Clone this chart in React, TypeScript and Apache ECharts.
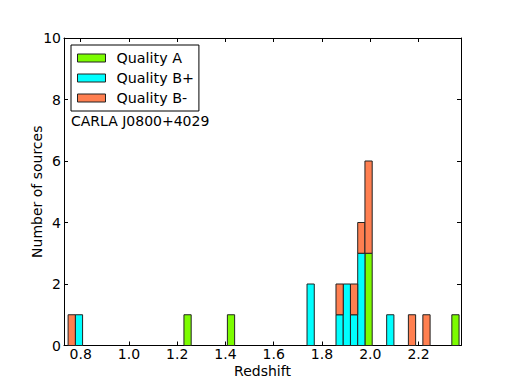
import React, { useEffect, useRef } from "react";
import * as echarts from "echarts";

const binWidth = 0.03;
const binStarts = [0.748, 0.778, 1.228, 1.408, 1.738, 1.858, 1.888, 1.918, 1.948, 1.978, 2.068, 2.158, 2.218, 2.338];
const countsA = [0, 0, 1, 1, 0, 0, 0, 0, 0, 3, 0, 0, 0, 1];
const countsBplus = [0, 1, 0, 0, 2, 1, 2, 1, 3, 0, 1, 0, 0, 0];
const countsBminus = [1, 0, 0, 0, 0, 1, 0, 1, 1, 3, 0, 1, 1, 0];
const seriesNames = ["Quality A", "Quality B+", "Quality B-"];
const seriesColors = ["#7cfc00", "#00ffff", "#ff7f50"];
const xTicks = [0.8, 1.0, 1.2, 1.4, 1.6, 1.8, 2.0, 2.2];
const xMin = 0.731;
const xMax = 2.376;
const yMin = 0;
const yMax = 10;
const yInterval = 2;
const fieldLabel = "CARLA J0800+4029";

const FONT = "DejaVu Sans";

export default function App() {
  const ref = useRef<HTMLDivElement>(null);
  useEffect(() => {
    if (!ref.current) return;
    const chart = echarts.init(ref.current, null, { renderer: "svg" });
    const allCounts = [countsA, countsBplus, countsBminus];
    const series = allCounts.map((counts, k) => {
      const data: number[][] = [];
      counts.forEach((c, i) => {
        if (c <= 0) return;
        let base = 0;
        for (let j = 0; j < k; j++) base += allCounts[j][i];
        data.push([binStarts[i], binStarts[i] + binWidth, base, base + c]);
      });
      const color = seriesColors[k];
      return {
        type: "custom",
        name: seriesNames[k],
        xAxisIndex: 0,
        yAxisIndex: 0,
        itemStyle: { color, borderColor: "#222", borderWidth: 1 },
        encode: { x: [0, 1], y: [2, 3] },
        data,
        renderItem: (params: any, api: any) => {
          const p0 = api.coord([api.value(0), api.value(2)]);
          const p1 = api.coord([api.value(1), api.value(3)]);
          return {
            type: "rect",
            shape: { x: p0[0], y: p1[1], width: p1[0] - p0[0], height: p0[1] - p1[1] },
            style: { fill: color, stroke: "#222", lineWidth: 1 },
          };
        },
      };
    });
    const axisLine = { show: true, onZero: false, lineStyle: { color: "#000", width: 1 } };
    const tick = { show: true, inside: true, length: 4, lineStyle: { color: "#000" } };
    chart.setOption({
      animation: false,
      textStyle: { fontFamily: FONT },
      grid: { left: 64, right: 51, top: 38, bottom: 38.5, containLabel: false },
      title: {
        text: fieldLabel,
        left: 71,
        top: 114,
        padding: 0,
        textStyle: { fontFamily: FONT, fontSize: 14, fontWeight: "normal", color: "#000" },
      },
      legend: {
        orient: "vertical",
        left: 71,
        top: 45,
        data: seriesNames,
        icon: "rect",
        itemWidth: 28,
        itemHeight: 8,
        itemGap: 4,
        padding: [5, 5, 5, 6],
        borderColor: "#000",
        borderWidth: 1,
        borderRadius: 0,
        backgroundColor: "#fff",
        selectedMode: false,
        itemStyle: { borderColor: "#222", borderWidth: 1 },
        textStyle: { fontFamily: FONT, fontSize: 14.3, color: "#000", lineHeight: 16, padding: [0, 0, 0, 6] },
      },
      xAxis: [
        {
          type: "value",
          min: xMin,
          max: xMax,
          name: "Redshift",
          nameLocation: "middle",
          nameGap: 18,
          nameMoveOverlap: false,
          nameTextStyle: { fontFamily: FONT, fontSize: 14, color: "#000", lineHeight: 14 },
          axisLine,
          axisTick: { ...tick, customValues: xTicks },
          splitLine: { show: false },
          axisLabel: {
            customValues: xTicks,
            formatter: (v: number) => v.toFixed(1),
            margin: 1,
            fontFamily: FONT,
            fontSize: 14,
            lineHeight: 14,
            color: "#000",
          },
        },
        {
          type: "value",
          position: "top",
          min: xMin,
          max: xMax,
          axisLine,
          axisTick: { ...tick, customValues: xTicks },
          splitLine: { show: false },
          axisLabel: { show: false, customValues: xTicks },
        },
      ],
      yAxis: [
        {
          type: "value",
          min: yMin,
          max: yMax,
          interval: yInterval,
          name: "Number of sources",
          nameLocation: "middle",
          nameGap: 20,
          nameMoveOverlap: false,
          nameTextStyle: { fontFamily: FONT, fontSize: 14, color: "#000" },
          axisLine,
          axisTick: tick,
          splitLine: { show: false },
          axisLabel: { margin: 3, fontFamily: FONT, fontSize: 14, color: "#000" },
        },
        {
          type: "value",
          position: "right",
          min: yMin,
          max: yMax,
          interval: yInterval,
          axisLine,
          axisTick: tick,
          splitLine: { show: false },
          axisLabel: { show: false },
        },
      ],
      series,
    });
    return () => chart.dispose();
  }, []);
  return (
    <div
      ref={ref}
      style={{ position: "fixed", left: 0, top: 0, width: 512, height: 384, background: "#fff" }}
    />
  );
}
